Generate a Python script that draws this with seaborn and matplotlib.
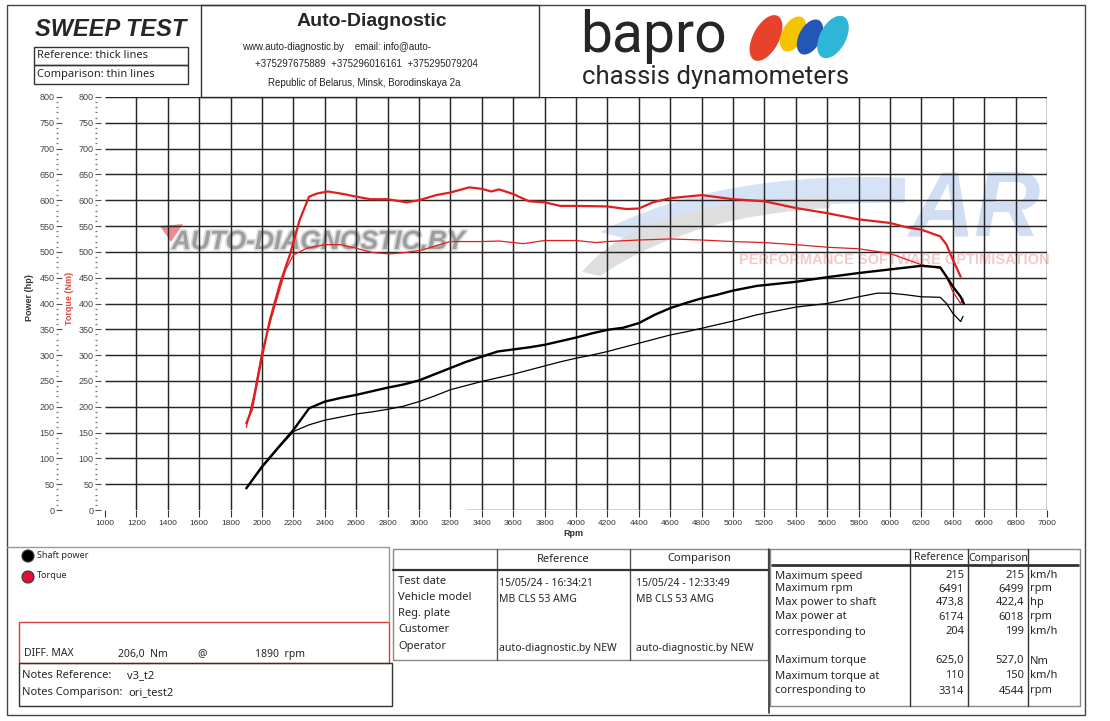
import numpy as np
import pandas as pd
import matplotlib
matplotlib.use('Agg')
import matplotlib.pyplot as plt
import seaborn as sns
from matplotlib.patches import Rectangle, Circle, Ellipse, Polygon, PathPatch
from matplotlib.path import Path
import matplotlib.patheffects as pe

sns.set_theme(style='white')
plt.rcParams['font.family'] = ['Liberation Sans', 'DejaVu Sans']

# --- curves (rpm / value) ---
ref_torque_rpm = [1900, 1935, 2000, 2050, 2115, 2180, 2240, 2300, 2350, 2420, 2520, 2600, 2690, 2800,
                  2920, 3000, 3110, 3200, 3320, 3400, 3460, 3510, 3600, 3700, 3800, 3900, 4000, 4200,
                  4320, 4400, 4490, 4600, 4700, 4800, 5000, 5200, 5400, 5600, 5800, 6000, 6100, 6200,
                  6320, 6360, 6400, 6450]
ref_torque = [168, 194, 297, 368, 439, 497, 562, 607, 613, 617, 612, 607, 602, 602,
              596, 600, 610, 615, 625, 622, 617, 621, 612, 598, 596, 589, 589, 588,
              583, 584, 596, 604, 607, 610, 602, 598, 585, 575, 563, 556, 548, 543,
              530, 514, 485, 452]

cmp_torque_rpm = [1900, 1950, 2000, 2075, 2150, 2200, 2285, 2400, 2500, 2600, 2700, 2810, 2920, 3025,
                  3110, 3200, 3400, 3510, 3665, 3800, 4000, 4130, 4200, 4400, 4600, 4800, 5000, 5200,
                  5400, 5600, 5800, 6000, 6200, 6320, 6360, 6400, 6450, 6465]
cmp_torque = [160, 225, 307, 388, 465, 494, 507, 514, 514, 507, 499, 496, 499, 504,
              512, 520, 520, 521, 516, 522, 522, 518, 520, 523, 525, 523, 520, 518,
              514, 509, 506, 497, 475, 468, 452, 423, 400, 410]

ref_power_rpm = [1900, 2000, 2100, 2200, 2300, 2400, 2500, 2600, 2700, 2800, 2900, 3000, 3100, 3200,
                 3300, 3400, 3500, 3600, 3700, 3800, 3900, 4000, 4100, 4200, 4300, 4400, 4500, 4600,
                 4700, 4800, 4900, 5000, 5150, 5400, 5600, 5800, 6000, 6200, 6320, 6360, 6400, 6450, 6470]
ref_power = [42, 84, 120, 155, 197, 210, 217, 223, 230, 237, 243, 251, 263, 275,
             287, 297, 307, 311, 315, 320, 327, 334, 342, 349, 353, 362, 378, 391,
             401, 410, 417, 425, 434, 442, 451, 459, 466, 473, 470, 452, 433, 413, 400]

cmp_power_rpm = [1900, 2000, 2100, 2200, 2300, 2400, 2500, 2600, 2700, 2800, 2900, 3000, 3100, 3200,
                 3300, 3400, 3500, 3600, 3700, 3800, 3900, 4000, 4100, 4200, 4300, 4400, 4500, 4600,
                 4700, 4800, 4900, 5000, 5150, 5400, 5600, 5800, 5920, 6000, 6100, 6200, 6320, 6360,
                 6400, 6450, 6465]
cmp_power = [42, 82, 118, 152, 165, 174, 180, 186, 190, 195, 201, 210, 221, 233,
             241, 249, 256, 263, 271, 279, 287, 294, 300, 307, 315, 323, 331, 339,
             345, 352, 359, 366, 378, 393, 400, 413, 420, 420, 417, 413, 412, 400,
             381, 365, 375]

x_ticks = list(range(1000, 7001, 200))
y_ticks = list(range(0, 801, 50))

# --- texts of the report ---
info_rows = ['Test date', 'Vehicle model', 'Reg. plate', 'Customer', 'Operator']
info_ref = ['15/05/24 - 16:34:21', 'MB CLS 53 AMG', '', '', 'auto-diagnostic.by NEW']
info_cmp = ['15/05/24 - 12:33:49', 'MB CLS 53 AMG', '', '', 'auto-diagnostic.by NEW']

stat_rows = ['Maximum speed', 'Maximum rpm', 'Max power to shaft', 'Max power at', 'corresponding to',
             'Maximum torque', 'Maximum torque at', 'corresponding to']
stat_ref = ['215', '6491', '473,8', '6174', '204', '625,0', '110', '3314']
stat_cmp = ['215', '6499', '422,4', '6018', '199', '527,0', '150', '4544']
stat_unit = ['km/h', 'rpm', 'hp', 'rpm', 'km/h', 'Nm', 'km/h', 'rpm']

W, H = 1110, 721
fig = plt.figure(figsize=(W / 100, H / 100), dpi=100)
fig.patch.set_facecolor('white')

# background layer in pixel coordinates
bg = fig.add_axes([0, 0, 1, 1])
bg.set_xlim(0, W)
bg.set_ylim(H, 0)
bg.axis('off')

UI = ['Noto Sans', 'DejaVu Sans']


def box(x0, y0, x1, y1, ec='#777', lw=1.0):
    bg.add_patch(Rectangle((x0, y0), x1 - x0, y1 - y0, fill=False, ec=ec, lw=lw))


def txt(x, y, s, size=8, **kw):
    kw.setdefault('va', 'center')
    bg.text(x, y, s, fontsize=size, **kw)


# page frame
box(7, 5, 1085, 715, ec='#444')

# header left
txt(35, 30, 'SWEEP TEST', 17, fontweight='bold', fontstyle='italic')
box(34, 47, 188, 65, ec='#333')
box(34, 65, 188, 84, ec='#333')
txt(37, 56, 'Reference: thick lines', 8, family=UI)
txt(37, 74.5, 'Comparison: thin lines', 8, family=UI)

# header centre
box(201, 5, 539, 97, ec='#333')
txt(372, 21, 'Auto-Diagnostic', 14, fontweight='bold', ha='center')
txt(242, 47, 'www.auto-diagnostic.by    email: info@auto-', 7)
txt(255, 64, '+375297675889  +375296016161  +375295079204', 7)
txt(268, 83, 'Republic of Belarus, Minsk, Borodinskaya 2a', 7)

# bapro logo
txt(580, 36, 'bapro', 41, family=['Roboto', 'DejaVu Sans'])
txt(582, 77, 'chassis dynamometers', 18.5, family=['Roboto', 'DejaVu Sans'])
for cx, cy, w, h, c in [(766, 38, 50, 26, '#e8412c'), (793, 34, 38, 22, '#f5c400'),
                        (810, 37, 38, 22, '#2456b8'), (833, 37, 46, 26, '#2fb5d8')]:
    bg.add_patch(Ellipse((cx, cy), w, h, angle=-62, color=c, lw=0))

# watermarks behind the grid
bg.add_patch(PathPatch(Path([(600, 232), (720, 170), (905, 178), (905, 203), (740, 200), (640, 242), (600, 232)],
                            [Path.MOVETO, Path.CURVE3, Path.CURVE3, Path.LINETO, Path.CURVE3, Path.CURVE3,
                             Path.CLOSEPOLY]), fc='#d6e2f5', ec='none'))
bg.add_patch(PathPatch(Path([(582, 272), (640, 200), (830, 196), (830, 208), (690, 215), (600, 276), (582, 272)],
                            [Path.MOVETO, Path.CURVE3, Path.CURVE3, Path.LINETO, Path.CURVE3, Path.CURVE3,
                             Path.CLOSEPOLY]), fc='#dedede', ec='none'))
txt(975, 212, 'AR', 66, fontweight='bold', fontstyle='italic', color='#d0ddf3', ha='center')
txt(894, 260, 'PERFORMANCE SOFTWARE OPTIMISATION', 10.5, fontweight='bold', color='#f5c9c9', ha='center')
bg.add_patch(Polygon([(160, 226), (183, 224), (171, 242)], closed=True, color='#f08a8a', lw=0))
txt(318, 242, 'AUTO-DIAGNOSTIC.BY', 19, fontweight='bold', fontstyle='italic', color='#9e9e9e', ha='center',
    path_effects=[pe.withStroke(linewidth=2.5, foreground='#dcdcdc')])

# axis titles on the left
txt(30, 298, 'Power (hp)', 6.5, fontweight='bold', color='#333', rotation=90, ha='center')
txt(69, 298, 'Torque (Nm)', 6.5, fontweight='bold', color='#e04848', rotation=90, ha='center')
txt(573, 533, 'Rpm', 6.5, fontweight='bold', color='#333', ha='center')

# --- bottom panels ---
bg.plot([7, 389, 389], [547, 547, 622], color='#999', lw=1)
bg.add_patch(Circle((28, 556), 6, fc='black', ec='#333', lw=0.8))
bg.add_patch(Circle((28, 577), 6, fc='#e0103a', ec='#333', lw=0.8))
txt(37, 555, 'Shaft power', 6.5, family=UI)
txt(37, 576, 'Torque', 6.5, family=UI)
box(19, 622, 389, 663, ec='#d04040')
txt(24, 654, 'DIFF. MAX', 7.5, family=UI)
txt(118, 654, '206,0  Nm', 7.5, family=UI)
txt(197, 654, '@', 7.5, family=UI)
txt(255, 654, '1890  rpm', 7.5, family=UI)
box(19, 663, 392, 706, ec='#333')
txt(22, 676, 'Notes Reference:', 8, family=UI)
txt(127, 676, 'v3_t2', 8, family=UI)
txt(22, 693, 'Notes Comparison:', 8, family=UI)
txt(128, 693, 'ori_test2', 8, family=UI)

# vehicle info table
box(393, 549, 768, 660, ec='#888')
for xv in (497, 630):
    bg.plot([xv, xv], [549, 660], color='#555', lw=1)
bg.plot([393, 768], [570, 570], color='#333', lw=1.6)
txt(563, 559, 'Reference', 8, family=UI, ha='center')
txt(699, 559, 'Comparison', 8, family=UI, ha='center')
for i, lab in enumerate(info_rows):
    y = 581 + i * 16.3
    txt(398, y, lab, 8, family=UI)
    txt(499, y + 2.5, info_ref[i], 7.5, family=UI)
    txt(636, y + 2.5, info_cmp[i], 7.5, family=UI)

# results table
bg.plot([769, 769], [549, 713], color='#333', lw=1.2)
box(770, 549, 1080, 706, ec='#888')
for xv in (910, 968, 1028):
    bg.plot([xv, xv], [549, 706], color='#333', lw=1)
bg.plot([772, 1078], [565, 565], color='#333', lw=2)
txt(939, 558, 'Reference', 7.5, family=UI, ha='center')
txt(998, 558, 'Comparison', 7.5, family=UI, ha='center')
stat_y = [576, 589, 602, 617, 632, 661, 676, 691]
for i, lab in enumerate(stat_rows):
    y = stat_y[i]
    txt(775, y, lab, 8, family=UI)
    txt(964, y, stat_ref[i], 8, family=UI, ha='right')
    txt(1024, y, stat_cmp[i], 8, family=UI, ha='right')
    txt(1030, y, stat_unit[i], 8, family=UI)

# --- main chart ---
ax = fig.add_axes([105 / W, (H - 510) / H, 942 / W, 413 / H])
ax.set_facecolor('none')
ax.set_xlim(1000, 7000)
ax.set_ylim(0, 800)
for s in ax.spines.values():
    s.set_visible(False)
ax.vlines(x_ticks[1:], 0, 800, colors='#262626', lw=1.05, zorder=1)
ax.hlines(y_ticks[1:], 1000, 7000, colors='#262626', lw=1.05, zorder=1)
ax.hlines(0, 3300, 7000, colors='#262626', lw=1.0, zorder=1)
ax.set_xticks(x_ticks)
ax.set_xticklabels([str(v) for v in x_ticks])
ax.set_yticks([])
ax.tick_params(axis='x', bottom=True, direction='out', length=5, width=0.8, color='#333',
               labelsize=6, labelcolor='#333', pad=2)

sns.lineplot(x=ref_torque_rpm, y=ref_torque, ax=ax, color='#e01e1e', lw=1.6, estimator=None, sort=False, zorder=5)
sns.lineplot(x=cmp_torque_rpm, y=cmp_torque, ax=ax, color='#e01e1e', lw=0.9, estimator=None, sort=False, zorder=5)
sns.lineplot(x=ref_power_rpm, y=ref_power, ax=ax, color='black', lw=1.7, estimator=None, sort=False, zorder=5)
sns.lineplot(x=cmp_power_rpm, y=cmp_power, ax=ax, color='black', lw=0.9, estimator=None, sort=False, zorder=5)
ax.set_xlabel('')
ax.set_ylabel('')

# left scale columns (power, torque)
for xpix in (56, 95):
    a = fig.add_axes([xpix / W, (H - 510) / H, 0.0005, 413 / H])
    a.set_facecolor('none')
    a.set_ylim(0, 800)
    a.set_xticks([])
    a.set_yticks(y_ticks)
    a.set_yticks(range(0, 801, 10), minor=True)
    for s in a.spines.values():
        s.set_visible(False)
    a.tick_params(axis='y', which='major', left=True, direction='in', length=4, width=0.8,
                  color='#555', labelsize=6.5, labelcolor='#444', pad=1)
    a.tick_params(axis='y', which='minor', left=True, direction='in', length=1.2, width=0.9, color='#777')

fig.savefig('out.png', dpi=100)
